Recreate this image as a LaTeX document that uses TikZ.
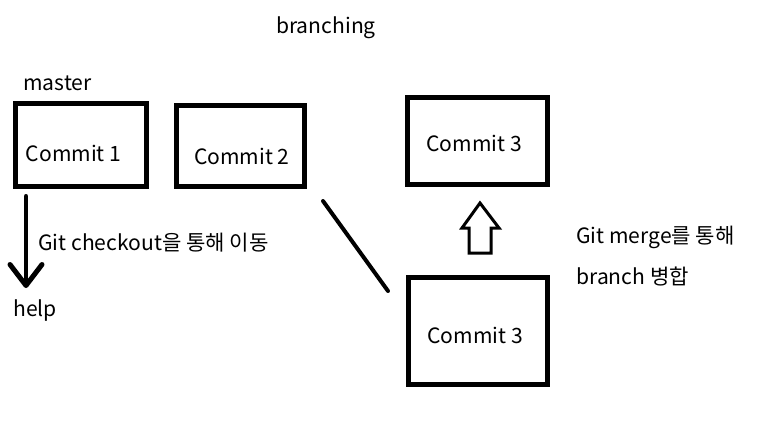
\documentclass[tikz,border=0pt]{standalone}
\usepackage{fontspec}
\setmainfont{Noto Sans CJK KR}
\usetikzlibrary{arrows.meta}

\begin{document}
\begin{tikzpicture}[x=0.02cm, y=-0.02cm,
  commit/.style={draw, line width=0.1cm, inner sep=0pt},
  note/.style={inner sep=0pt, font=\fontsize{12}{14}\selectfont},
  arrow/.style={line width=0.1cm, line cap=round, -{Straight Barb[length=0.42cm, width=0.64cm, round]}},
  merge/.style={draw, line width=0.06cm, line join=miter}
]
  \useasboundingbox (0,0) rectangle (764,434);

  % Title and branch names
  \node[note] (title) at (326,28) {branching};
  \node[note, anchor=west] (master) at (23,83) {master};
  \node[note, anchor=west] (help) at (13,311) {help};

  % Commits
  \node[commit, minimum width=2.64cm, minimum height=1.66cm,
    label={[note, xshift=-0.15cm, yshift=-0.17cm]center:Commit 1}] (c1) at (81,144.5) {};
  \node[commit, minimum width=2.57cm, minimum height=1.61cm,
    label={[note, xshift=0.02cm, yshift=-0.22cm]center:Commit 2}] (c2) at (240.75,145.75) {};
  \node[commit, minimum width=2.8cm, minimum height=1.74cm,
    label={[note, xshift=-0.07cm, yshift=-0.04cm]center:Commit 3}] (c3top) at (477.5,141) {};
  \node[commit, minimum width=2.8cm, minimum height=2.14cm,
    label={[note, xshift=-0.06cm, yshift=-0.08cm]center:Commit 3}] (c3bot) at (478,331) {};

  % Notes
  \node[note, anchor=west] (checkout) at (38,243) {Git checkout을 통해 이동};
  \node[note, anchor=west] (merge1) at (576,237) {Git merge를 통해};
  \node[note, anchor=west] (merge2) at (576,276) {branch 병합};

  % Checkout arrow
  \coordinate (down) at (26,288);
  \draw[arrow] (c1.south -| down) ++(0,8) -- (down);

  % Branch line
  \coordinate (b1) at (323,201);
  \coordinate (b2) at (388,291);
  \draw[line width=0.08cm, line cap=round] (b1) -- (b2);

  % Merge arrow
  \draw[merge] (480,203) -- (499,228) -- (491,228) -- (491,253) -- (469,253)
    -- (469,228) -- (462,228) -- cycle;
\end{tikzpicture}
\end{document}
